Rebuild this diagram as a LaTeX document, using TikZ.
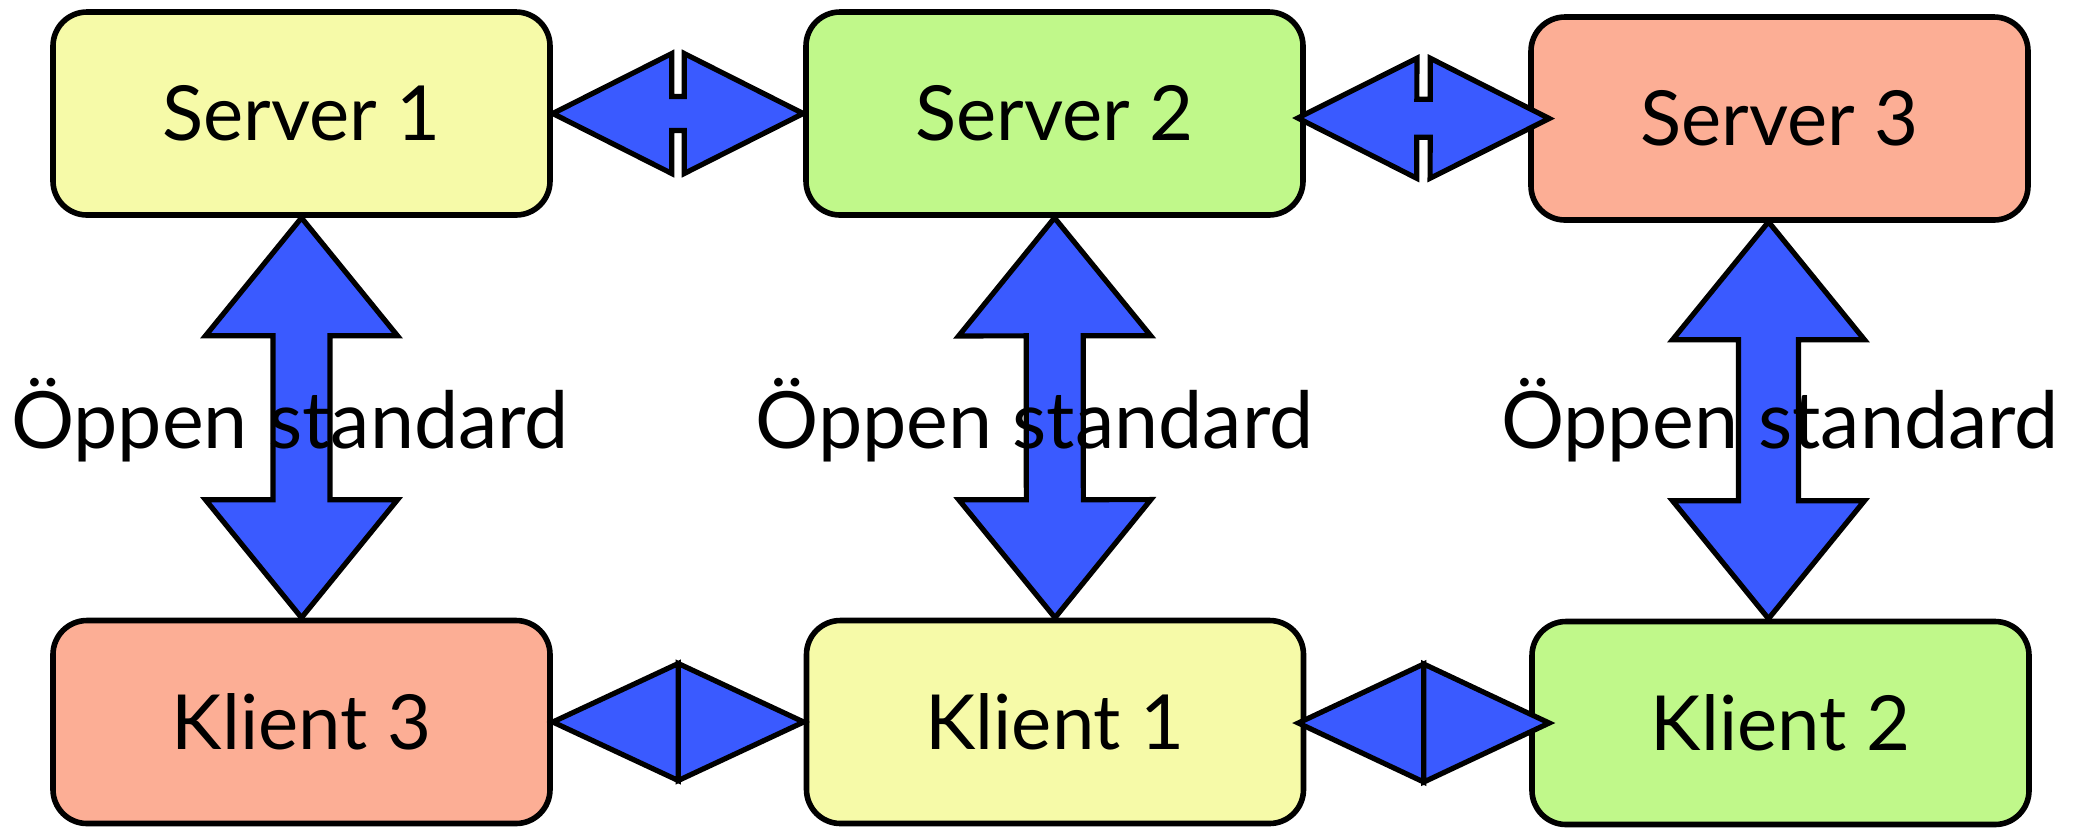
\documentclass[tikz,border=0pt]{standalone}
\usepackage{fontspec}
\setmainfont{Lato}
\usetikzlibrary{calc}
\definecolor{boxyellow}{HTML}{F6FAA8}
\definecolor{boxgreen}{HTML}{C0F88A}
\definecolor{boxsalmon}{HTML}{FCAE95}
\definecolor{arrowblue}{HTML}{3A5AFF}
% block double arrow: tips #1,#2; head length #3; head half width #4; shaft half width #5
\newcommand\blockarrow[5]{%
  \draw[arr] (#1)
    -- ($($(#1)!#3!(#2)$)!#4!90:(#2)$)
    -- ($($(#1)!#3!(#2)$)!#5!90:(#2)$)
    -- ($($(#2)!#3!(#1)$)!#5!-90:(#1)$)
    -- ($($(#2)!#3!(#1)$)!#4!-90:(#1)$)
    -- (#2)
    -- ($($(#2)!#3!(#1)$)!#4!90:(#1)$)
    -- ($($(#2)!#3!(#1)$)!#5!90:(#1)$)
    -- ($($(#1)!#3!(#2)$)!#5!-90:(#2)$)
    -- ($($(#1)!#3!(#2)$)!#4!-90:(#2)$)
    -- cycle;}
% two triangles meeting in the middle: tips #1,#2; half width #3
\newcommand\diamarrow[3]{%
  \draw[arr] (#1)
    -- ($($(#1)!0.5!(#2)$)!#3!90:(#2)$)
    -- ($(#1)!0.5!(#2)$)
    -- ($($(#1)!0.5!(#2)$)!#3!90:(#2)$)
    -- (#2)
    -- ($($(#1)!0.5!(#2)$)!#3!-90:(#2)$)
    -- ($(#1)!0.5!(#2)$)
    -- ($($(#1)!0.5!(#2)$)!#3!-90:(#2)$)
    -- cycle;}
\begin{document}
\begin{tikzpicture}[x=0.5pt,y=-0.5pt,
  box/.style={draw=black, line width=2.8pt, rounded corners=17pt,
    minimum width=248.5pt, minimum height=101.5pt, inner sep=0pt,
    font=\fontsize{38}{44}\selectfont},
  arr/.style={draw=black, fill=arrowblue, line width=2.6pt, line join=miter},
  lbl/.style={font=\fontsize{39.5}{46}\selectfont, inner sep=0pt, anchor=base}]
\useasboundingbox (0,0) rectangle (2073,827);
% boxes
\node[box, fill=boxyellow] (S1) at (301.5,113.5) {Server 1};
\node[box, fill=boxgreen]  (S2) at (1054.5,113.5) {Server 2};
\node[box, fill=boxsalmon] (S3) at (1779.5,118.5) {Server 3};
\node[box, fill=boxsalmon] (K3) at (301.5,722) {Klient 3};
\node[box, fill=boxyellow] (K1) at (1055,722) {Klient 1};
\node[box, fill=boxgreen]  (K2) at (1780.5,723) {Klient 2};
% free ends of arrows that do not meet the box anchors
\coordinate (a2l) at ($(S2.east)+(-8,4.5)$);
\coordinate (a2r) at ($(S3.west)+(21,0)$);
\coordinate (v3t) at ($(S3.south)+(-11,-1)$);
\coordinate (v3b) at ($(K2.north)+(-12,0)$);
\coordinate (b2l) at ($(K1.east)+(-8,1)$);
\coordinate (b2r) at ($(K2.west)+(20,0)$);
% horizontal arrows, top row
\blockarrow{S1.east}{S2.west}{59.5pt}{30pt}{8.5pt}
\blockarrow{a2l}{a2r}{59.5pt}{30pt}{9.5pt}
% vertical arrows
\blockarrow{S1.south}{K3.north}{59pt}{48pt}{14.25pt}
\blockarrow{S2.south}{K1.north}{59pt}{48pt}{14.25pt}
\blockarrow{v3t}{v3b}{59pt}{48pt}{15pt}
% horizontal arrows, bottom row
\diamarrow{K3.east}{K1.west}{29.25pt}
\diamarrow{b2l}{b2r}{29.5pt}
% labels
\node[lbl] (L1) at (290,448) {Öppen standard};
\node[lbl] (L2) at (1034.5,448) {Öppen standard};
\node[lbl] (L3) at (1780,448) {Öppen standard};
\end{tikzpicture}
\end{document}
